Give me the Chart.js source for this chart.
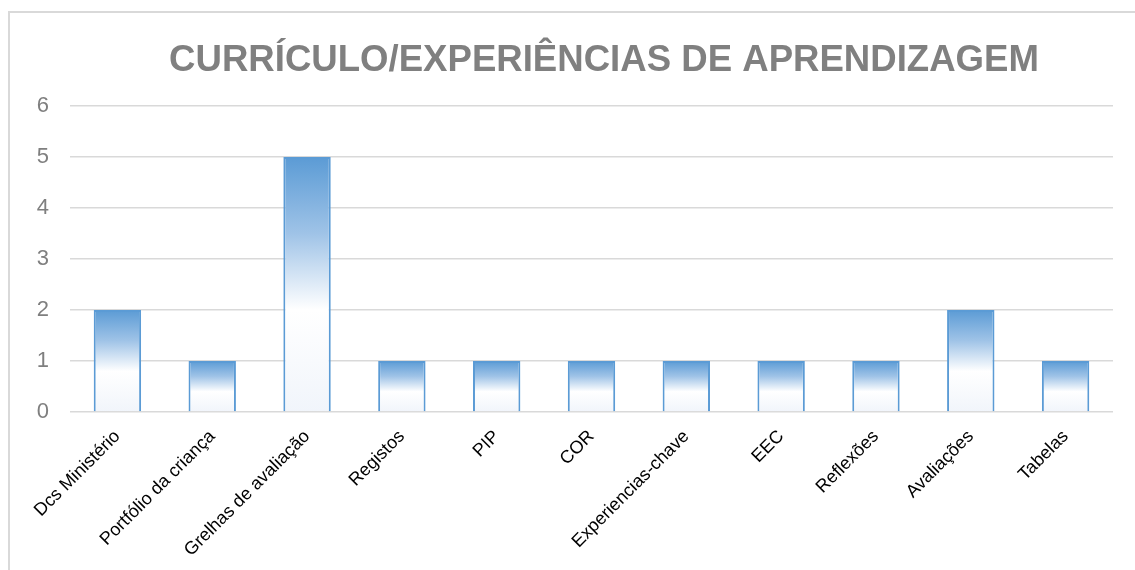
<!DOCTYPE html>
<html>
<head>
<meta charset="utf-8">
<script src="https://cdn.jsdelivr.net/npm/chart.js@4"></script>
<style>
  html, body { margin: 0; padding: 0; background: #fff; overflow: hidden; width: 1135px; height: 570px; }
  #frame { position: absolute; left: 8px; top: 11px; width: 1300px; height: 700px; border: 2px solid #d9d9d9; box-sizing: border-box; }
  #wrap { position: absolute; left: 0; top: 0; width: 1200px; height: 570px; }
</style>
</head>
<body>
<div id="frame"></div>
<div id="wrap"><canvas id="c" width="1200" height="570"></canvas></div>
<script>
const titleText = 'CURRÍCULO/EXPERIÊNCIAS DE APRENDIZAGEM';
const categories = ['Dcs Ministério', 'Portfólio da criança', 'Grelhas de avaliação', 'Registos', 'PIP', 'COR', 'Experiencias-chave', 'EEC', 'Reflexões', 'Avaliações', 'Tabelas'];
const values = [2, 1, 5, 1, 1, 1, 1, 1, 1, 2, 1];
const yTicks = [0, 1, 2, 3, 4, 5, 6];

function barGradient(ctx) {
  const chart = ctx.chart;
  if (!chart.chartArea || ctx.raw === undefined) return '#9dc3e6';
  const y = chart.scales.y;
  const top = y.getPixelForValue(ctx.raw);
  const bottom = y.getPixelForValue(0);
  if (!isFinite(top) || !isFinite(bottom) || top === bottom) return '#9dc3e6';
  const g = chart.ctx.createLinearGradient(0, top, 0, bottom);
  g.addColorStop(0, '#5b9bd5');
  g.addColorStop(0.3, '#9fc3e7');
  g.addColorStop(0.6, '#ffffff');
  g.addColorStop(1, '#f1f5fb');
  return g;
}

new Chart(document.getElementById('c'), {
  type: 'bar',
  data: {
    labels: categories,
    datasets: [{
      data: values,
      backgroundColor: barGradient,
      borderColor: '#5b9bd5',
      borderWidth: 2,
      borderSkipped: 'bottom',
      categoryPercentage: 1,
      barPercentage: 0.5
    }]
  },
  options: {
    responsive: false,
    animation: false,
    layout: { padding: { left: 8, right: 0, top: 0, bottom: 0 } },
    plugins: {
      legend: { display: false },
      tooltip: { enabled: false },
      title: {
        display: true,
        text: titleText,
        color: '#808080',
        font: { family: 'Liberation Sans', size: 36.6, weight: 'bold', lineHeight: 1.2 },
        padding: { top: 39, bottom: 23 }
      }
    },
    scales: {
      x: {
        grid: { display: false },
        border: { display: false },
        ticks: {
          color: '#000000',
          font: { family: 'Liberation Sans', size: 18 },
          minRotation: 45,
          maxRotation: 45,
          padding: 6,
          autoSkip: false
        },
        afterFit(s) { s.height = 158; }
      },
      y: {
        min: 0,
        max: 6,
        afterBuildTicks(s) { s.ticks = yTicks.map(v => ({ value: v })); },
        grid: { color: '#d9d9d9', lineWidth: 1.5, drawTicks: false },
        border: { display: false },
        ticks: {
          color: '#7f7f7f',
          font: { family: 'Liberation Sans', size: 22 },
          padding: 21
        },
        afterFit(s) { s.width = 62; }
      },
      y2: {
        position: 'right',
        display: true,
        grid: { display: false, drawTicks: false },
        border: { display: false },
        ticks: { display: false },
        afterFit(s) { s.width = 87; }
      }
    }
  }
});
</script>
</body>
</html>
